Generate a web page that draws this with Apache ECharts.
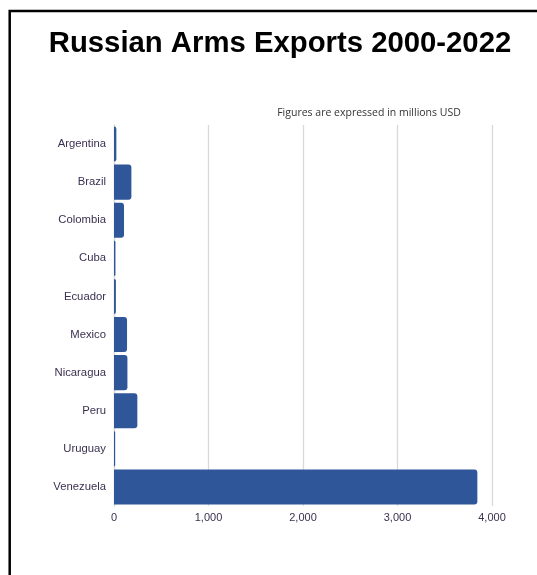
<!DOCTYPE html>
<html>
<head>
<meta charset="utf-8">
<script src="https://cdn.jsdelivr.net/npm/echarts@6/dist/echarts.min.js"></script>
<style>
html,body{margin:0;padding:0;background:#fff;}
#c{width:537px;height:575px;}
</style>
</head>
<body>
<div id="c"></div>
<script>
const titleText = "Russian Arms Exports 2000-2022";
const subtitleText = "Figures are expressed in millions USD";
const countries = ["Argentina","Brazil","Colombia","Cuba","Ecuador","Mexico","Nicaragua","Peru","Uruguay","Venezuela"];
const exportsMUSD = [25, 184, 106, 15, 20, 138, 142, 247, 12, 3845];
const xTicks = [0, 1000, 2000, 3000, 4000];

const chart = echarts.init(document.getElementById('c'));
chart.setOption({
  animation: false,
  backgroundColor: '#fff',
  graphic: [{
    type: 'rect',
    shape: { x: 9.7, y: 11, width: 600, height: 600 },
    style: { fill: 'none', stroke: '#000', lineWidth: 2.5 }
  }],
  title: [{
    text: titleText,
    left: 275, top: 24, textAlign: 'center',
    textStyle: { fontFamily: 'Liberation Sans, Arial, sans-serif', fontWeight: 'bold', fontSize: 29.3, color: '#000' }
  }, {
    text: subtitleText,
    left: 364, top: 103, textAlign: 'center',
    textStyle: { fontFamily: 'Open Sans, sans-serif', fontWeight: 'normal', fontSize: 10.5, color: '#333' }
  }],
  grid: { left: 114, right: 45, top: 125, bottom: 69, containLabel: false },
  xAxis: {
    type: 'value', min: xTicks[0], max: xTicks[xTicks.length - 1], interval: 1000,
    axisLine: { show: false }, axisTick: { show: false },
    splitLine: { show: true, lineStyle: { color: '#d9d9d9', width: 1.3 } },
    axisLabel: {
      color: '#3b3150', fontFamily: 'Liberation Sans, Arial, sans-serif', fontSize: 11, margin: 6,
      formatter: v => v.toLocaleString('en-US')
    }
  },
  yAxis: {
    type: 'category', data: countries, inverse: true,
    axisLine: { show: true, lineStyle: { color: '#d9d9d9', width: 1.3 } },
    axisTick: { show: false },
    axisLabel: { color: '#3b3150', fontFamily: 'Liberation Sans, Arial, sans-serif', fontSize: 11.3, margin: 8 }
  },
  series: [{
    type: 'bar', data: exportsMUSD, barCategoryGap: '8%',
    itemStyle: { color: '#30569a', borderRadius: [0, 3, 3, 0] }
  }]
});
</script>
</body>
</html>
